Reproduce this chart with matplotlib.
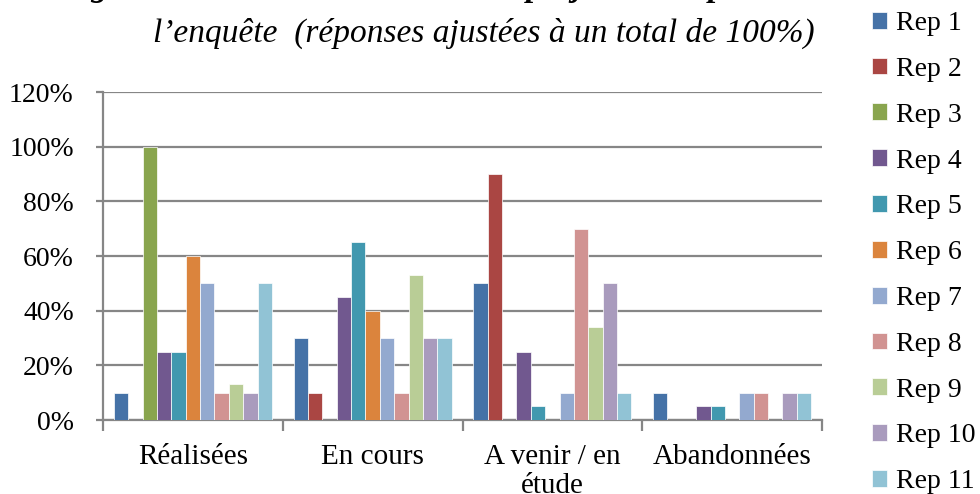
import numpy as np
import matplotlib
matplotlib.use('Agg')
import matplotlib.pyplot as plt
from matplotlib.ticker import PercentFormatter, FixedLocator

# categories and values (in %)
categories = ['Réalisées', 'En cours', 'A venir / en\nétude', 'Abandonnées']
series_names = ['Rep 1', 'Rep 2', 'Rep 3', 'Rep 4', 'Rep 5', 'Rep 6',
                'Rep 7', 'Rep 8', 'Rep 9', 'Rep 10', 'Rep 11']
rep1 = [10, 30, 50, 10]
rep2 = [0, 10, 90, 0]
rep3 = [100, 0, 0, 0]
rep4 = [25, 45, 25, 5]
rep5 = [25, 65, 5, 5]
rep6 = [60, 40, 0, 0]
rep7 = [50, 30, 10, 10]
rep8 = [10, 10, 70, 10]
rep9 = [13, 53, 34, 0]
rep10 = [10, 30, 50, 10]
rep11 = [50, 30, 10, 10]
values = [rep1, rep2, rep3, rep4, rep5, rep6, rep7, rep8, rep9, rep10, rep11]

colors = ['#4572A7', '#AA4643', '#89A54E', '#71588F', '#4198AF', '#DB843D',
          '#93A9CF', '#D19392', '#B9CD96', '#A99BBD', '#91C3D5']

plt.rcParams['font.family'] = ['Liberation Serif', 'DejaVu Serif']

fig = plt.figure(figsize=(9.8, 4.94), dpi=100)
ax = fig.add_axes([103 / 980, 1 - 420 / 494, 719 / 980, 328 / 494])

x = np.arange(len(categories))
n = len(values)
width = 1 / (n + 1.5)
grid_col = '#868686'

for i, (name, vals) in enumerate(zip(series_names, values)):
    ax.bar(x + (i - (n - 1) / 2) * width, vals, width, color=colors[i],
           edgecolor='white', linewidth=0.5, label=name, zorder=3)

ax.set_xlim(-0.5, len(categories) - 0.5)
ax.set_ylim(0, 120)
ax.yaxis.set_major_locator(FixedLocator(np.arange(0, 121, 20)))
ax.yaxis.set_major_formatter(PercentFormatter(decimals=0))
ax.yaxis.grid(True, color=grid_col, linewidth=1.6, zorder=0)

ax.set_xticks(x)
ax.set_xticklabels(categories, fontsize=21, linespacing=1.15)
ax.tick_params(axis='x', which='major', length=0, pad=17)
ax.set_xticks(np.arange(-0.5, len(categories)), minor=True)
ax.tick_params(axis='x', which='minor', length=8, width=1.6, color=grid_col, direction='out')
ax.tick_params(axis='y', labelsize=20, length=5, width=1.6, color=grid_col, pad=16)

for s in ['top', 'right']:
    ax.spines[s].set_visible(False)
for s in ['left', 'bottom']:
    ax.spines[s].set_color(grid_col)
    ax.spines[s].set_linewidth(1.6)

# title (first line is cut off by the top of the image)
fig.text(0.47, 1 + 4 / 494, "Figure 4 : Etat d'avancement des projets des répondants à",
         ha='center', va='baseline', fontsize=24, fontweight='bold', style='italic')
fig.text(0.494, 1 - 42 / 494, "l\u2019enquête  (réponses ajustées à un total de 100%)",
         ha='center', va='baseline', fontsize=24, style='italic')

fig.legend(loc='upper left', bbox_to_anchor=(872 / 980, 1 - 11 / 494), frameon=False,
           fontsize=20, handlelength=0.55, handleheight=0.55, handletextpad=0.3,
           labelspacing=0.75, borderpad=0, borderaxespad=0)

fig.savefig('out.png', dpi=100)
